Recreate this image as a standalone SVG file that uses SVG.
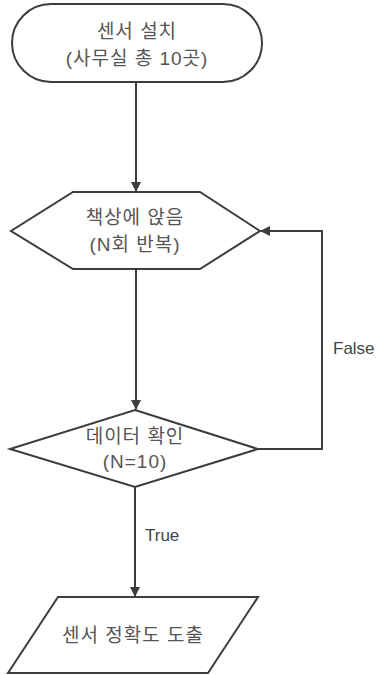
<svg xmlns="http://www.w3.org/2000/svg" width="376" height="675" viewBox="0 0 376 675">
<defs>
<style>
.shape{fill:#ffffff;stroke:#3d3d3d;stroke-width:2}
.edge{fill:none;stroke:#3d3d3d;stroke-width:2}
.t{font-family:"Liberation Sans","Noto Sans CJK KR",sans-serif;font-size:19px;letter-spacing:1px;fill:#555555;text-anchor:middle}
.lbl{font-family:"Liberation Sans","Noto Sans CJK KR",sans-serif;font-size:17px;fill:#444444}
</style>
<marker id="arr" viewBox="0 0 10 10" refX="9" refY="5" markerWidth="10" markerHeight="10" markerUnits="userSpaceOnUse" orient="auto">
<path d="M0,0 L10,5 L0,10 Z" fill="#3d3d3d"/>
</marker>
</defs>
<rect width="376" height="675" fill="#ffffff"/>
<g id="connectors">
<path class="edge" d="M136,82 L136,191" marker-end="url(#arr)"/>
<path class="edge" d="M136,269 L136,409" marker-end="url(#arr)"/>
<path class="edge" d="M258,449 L322,449 L322,231 L261,231" marker-end="url(#arr)"/>
<path class="edge" d="M135,487 L135,596" marker-end="url(#arr)"/>
<text class="lbl" x="333" y="354">False</text>
<text class="lbl" x="145" y="541">True</text>
</g>
<g id="start">
<rect class="shape" x="12" y="4" width="250" height="78" rx="39" ry="39"/>
<text class="t" x="137" y="38">센서 설치</text>
<text class="t" x="137" y="65">(사무실 총 10곳)</text>
</g>
<g id="sit">
<polygon class="shape" points="73,192 200,192 260,231 200,269 73,269 11,231"/>
<text class="t" x="135" y="224">책상에 앉음</text>
<text class="t" x="135" y="251">(N회 반복)</text>
</g>
<g id="check">
<polygon class="shape" points="135,410 258,449 135,487 10,449"/>
<text class="t" x="135" y="443">데이터 확인</text>
<text class="t" x="135" y="468">(N=10)</text>
</g>
<g id="result">
<polygon class="shape" points="58,597 258,597 208,673 8,673"/>
<text class="t" x="133" y="642">센서 정확도 도출</text>
</g>
</svg>
